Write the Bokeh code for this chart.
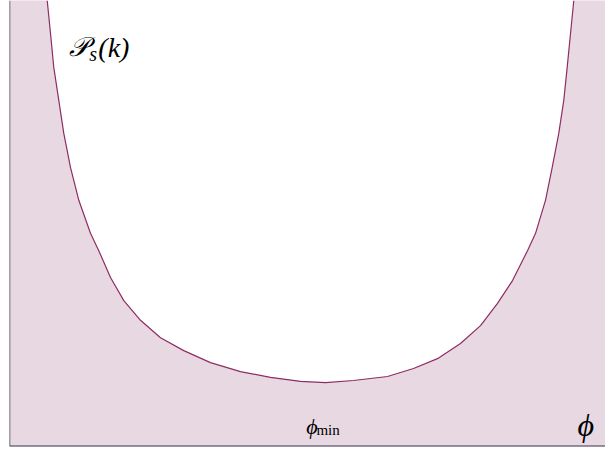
from bokeh.plotting import figure
from bokeh.models import Span, Label, Range1d
from bokeh.embed import file_html
from bokeh.resources import INLINE

# Curve P_s(k) as a function of phi
phi = [0.633, 0.688, 0.743, 0.827, 0.911, 1.023, 1.163, 1.359, 1.498, 1.695, 1.918,
       2.198, 2.534, 2.924, 3.372, 3.876, 4.379, 4.883, 5.302, 5.772, 6.342, 6.779,
       7.181, 7.567, 7.903, 8.188, 8.440, 8.691, 8.826, 8.993, 9.106, 9.216, 9.300,
       9.357, 9.413, 9.468]
P = [10.00, 9.26, 8.50, 7.76, 7.02, 6.26, 5.52, 4.78, 4.39, 3.79, 3.27,
     2.83, 2.44, 2.15, 1.88, 1.68, 1.55, 1.46, 1.43, 1.48, 1.57, 1.75,
     1.97, 2.31, 2.71, 3.21, 3.72, 4.39, 4.78, 5.52, 6.26, 7.02, 7.76,
     8.50, 9.26, 10.00]

X_MIN, X_MAX = 0.0, 10.0
Y_MIN, Y_MAX = 0.0, 10.0
Y_FILL_TOP = 12.0

FILL = "#e8d8e2"
LINE = "#8e2c63"

p = figure(width=605, height=452, output_backend="svg", toolbar_location=None,
           x_range=Range1d(X_MIN, X_MAX), y_range=Range1d(Y_MIN, Y_MAX),
           min_border_left=9, min_border_right=0, min_border_top=0, min_border_bottom=6)
p.axis.visible = False
p.grid.visible = False
p.outline_line_color = None
p.background_fill_color = "white"
p.border_fill_color = "white"

xs = [X_MIN] + phi + [X_MAX, X_MAX, X_MIN]
ys = [Y_FILL_TOP] + P + [Y_FILL_TOP, Y_MIN, Y_MIN]
p.patch(xs, ys, fill_color=FILL, line_color=None)
p.line(phi, P, line_color=LINE, line_width=1.2)

p.add_layout(Span(location=X_MIN, dimension="height", line_color="#4a4a4a", line_width=1.5))
p.add_layout(Span(location=Y_MIN, dimension="width", line_color="#38344c", line_width=2))

serif = "Liberation Serif"
p.add_layout(Label(x=0.99, y=8.95, text="𝒫", text_font=serif, text_font_style="italic",
                   text_font_size="27px", text_baseline="alphabetic", text_color="black"))
p.add_layout(Label(x=1.34, y=8.80, text="s", text_font=serif, text_font_style="italic",
                   text_font_size="20px", text_baseline="alphabetic", text_color="black"))
p.add_layout(Label(x=1.49, y=8.95, text="(k)", text_font=serif, text_font_style="italic",
                   text_font_size="28px", text_baseline="alphabetic", text_color="black"))

p.add_layout(Label(x=4.98, y=0.45, text="ϕ", text_font=serif, text_font_style="italic",
                   text_font_size="22px", text_baseline="alphabetic", text_color="black"))
p.add_layout(Label(x=5.15, y=0.38, text="min", text_font=serif,
                   text_font_size="15px", text_baseline="alphabetic", text_color="black"))
p.add_layout(Label(x=9.53, y=0.49, text="ϕ", text_font=serif, text_font_style="italic",
                   text_font_size="32px", text_baseline="alphabetic", text_color="black"))

open("out.html", "w").write(file_html(p, INLINE))
